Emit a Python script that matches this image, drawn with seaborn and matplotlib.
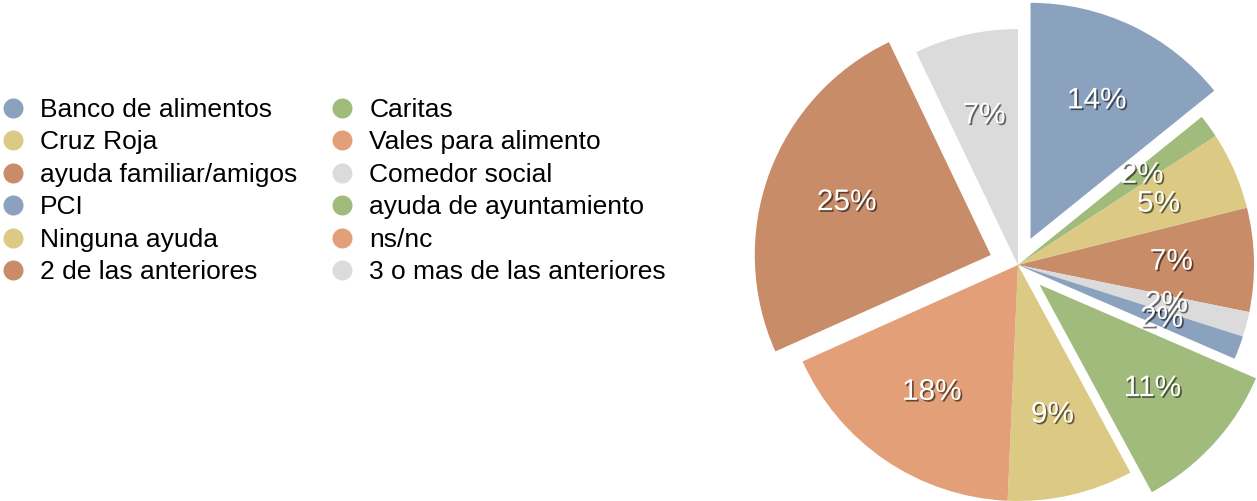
import matplotlib
matplotlib.use("Agg")
import matplotlib.pyplot as plt
import matplotlib.patheffects as pe
from matplotlib.lines import Line2D
import seaborn as sns

# Share of households by type of food aid received (percent)
categories = [
    "Banco de alimentos", "Caritas", "Cruz Roja", "Vales para alimento",
    "ayuda familiar/amigos", "Comedor social", "PCI", "ayuda de ayuntamiento",
    "Ninguna ayuda", "ns/nc", "2 de las anteriores", "3 o mas de las anteriores",
]
shares = [14.2, 1.6, 5.3, 0.0, 7.1, 1.7, 1.6, 10.6, 8.6, 17.6, 24.6, 7.1]
highlighted = ["Banco de alimentos", "ayuda de ayuntamiento", "2 de las anteriores"]
base_colors = ["#8BA2BE", "#A0BB7B", "#DCCA84", "#E3A078", "#C88C68", "#DBDBDB"]

sns.set_theme(style="white")
plt.rcParams["font.family"] = ["Liberation Sans", "DejaVu Sans"]
plt.rcParams["text.color"] = "black"

palette = sns.color_palette(base_colors)
colors = [palette[i % len(palette)] for i in range(len(categories))]

W, H, DPI = 1257, 501, 100
fig = plt.figure(figsize=(W / DPI, H / DPI), dpi=DPI)
ax = fig.add_axes([0, 0, 1, 1])

CX, CY, R, GAP = 1018, 236, 236, 29


def pct_label(v):
    return f"{v:.0f}%" if v > 0.5 else ""


wedges, texts, autotexts = ax.pie(
    shares,
    colors=colors,
    startangle=90,
    counterclock=False,
    center=(CX, CY),
    radius=R,
    explode=[GAP if c in highlighted else 0 for c in categories],
    autopct=pct_label,
    pctdistance=0.65,
    wedgeprops=dict(linewidth=0),
    textprops=dict(color="white", fontsize=21.5),
)
for t in autotexts:
    t.set_path_effects([pe.withSimplePatchShadow(offset=(1.2, -1.2),
                                                 shadow_rgbFace="black", alpha=0.55)])

ax.set_xlim(0, W)
ax.set_ylim(0, H)
ax.set_aspect("equal")
ax.axis("off")

# Legend: two columns, filled round markers
order = list(range(0, len(categories), 2)) + list(range(1, len(categories), 2))
handles = [Line2D([], [], linestyle="none", marker="o", markersize=14.4,
                  markerfacecolor=colors[i], markeredgewidth=0) for i in order]
labels = [categories[i] for i in order]
fig.legend(handles, labels, loc="upper left",
           bbox_to_anchor=(0.0, 1 - 98 / H), ncol=2, frameon=False,
           fontsize=19, borderpad=0, borderaxespad=0,
           handlelength=1.0, handletextpad=0.52, columnspacing=1.2,
           labelspacing=0.32, labelcolor="black")

fig.savefig("out.png", dpi=DPI, facecolor="white")
